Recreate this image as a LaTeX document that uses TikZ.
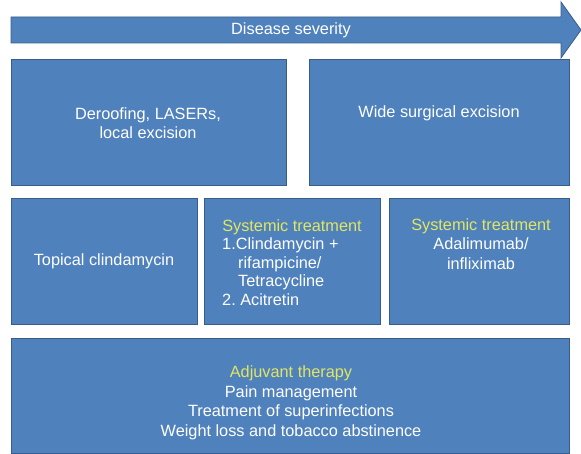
\documentclass[tikz,border=0pt]{standalone}
\usepackage{fontspec}
\setmainfont{Liberation Sans}
\frenchspacing
\definecolor{boxblue}{RGB}{79,129,189}
\definecolor{boxedge}{RGB}{56,93,138}
\definecolor{headyel}{RGB}{226,230,96}
\tikzset{
  panel/.style={draw=boxedge, line width=1pt, fill=boxblue, inner sep=0pt, anchor=north west},
  txt/.style={text=white, font=\fontsize{16.3}{19.5}\selectfont, align=center, inner sep=0pt},
  txtl/.style={text=white, font=\fontsize{16.3}{19}\selectfont, anchor=west, inner sep=0pt},
}
\begin{document}
\begin{tikzpicture}[x=1pt,y=-1pt]
\useasboundingbox (0,0) rectangle (581,454);
% severity arrow
\draw[draw=boxedge, line width=0.8pt, fill=boxblue]
  (11,17) -- (561,17) -- (561,2) -- (581,30) -- (561,58) -- (561,43) -- (11,43) -- cycle;
\node[txt] (sev) at (291,30) {Disease severity};
% boxes
\node[panel, minimum width=275pt, minimum height=126pt] (b1) at (11,59) {};
\node[panel, minimum width=260pt, minimum height=126pt] (b2) at (309,59) {};
\node[panel, minimum width=186pt, minimum height=126pt] (b3) at (11,198) {};
\node[panel, minimum width=176pt, minimum height=126pt] (b4) at (204,198) {};
\node[panel, minimum width=180pt, minimum height=126pt] (b5) at (389,198) {};
\node[panel, minimum width=558pt, minimum height=115pt] (b6) at (11,338) {};
% texts
\node[txt] (t1) at (148,123) {Deroofing, LASERs,\\local excision};
\node[txt] (t2) at (439,113) {Wide surgical excision};
\node[txt] (t3) at (104,261) {Topical clindamycin};
\node[txt, text=headyel] (t4h) at (292,227) {Systemic treatment};
\node[txtl] (t4a) at (222,245) {1.Clindamycin +};
\node[txtl] (t4b) at (238,264) {rifampicine/};
\node[txtl] (t4c) at (238,282) {Tetracycline};
\node[txtl] (t4d) at (222,300) {2. Acitretin};
\node[txt] (t5) at (481,244) {\textcolor{headyel}{Systemic treatment}\\Adalimumab/\\infliximab};
\node[txt] (t6) at (291,403) {\textcolor{headyel}{Adjuvant therapy}\\Pain management\\Treatment of superinfections\\Weight loss and tobacco abstinence};
\end{tikzpicture}
\end{document}
